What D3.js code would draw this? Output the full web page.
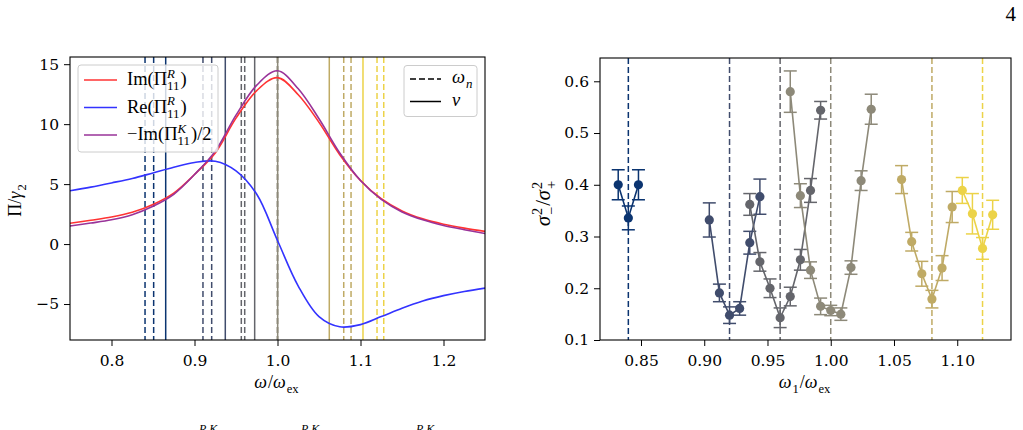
<!DOCTYPE html>
<html>
<head>
<meta charset="utf-8">
<script src="https://cdn.jsdelivr.net/npm/d3@7"></script>
<style>
  body { margin: 0; background: #fff; }
</style>
</head>
<body>
<svg id="fig" width="1023" height="430"></svg>
<script>
// ---- left panel: response functions ----
var omega   = [0.75, 0.775, 0.80, 0.825, 0.85, 0.875, 0.90, 0.925, 0.95, 0.975, 1.00,
               1.025, 1.05, 1.075, 1.10, 1.125, 1.15, 1.175, 1.20, 1.225, 1.25];
var imPiR   = [1.73, 1.98, 2.25, 2.65, 3.3, 4.25, 5.8, 7.6, 10.5, 12.8, 13.88,
               12.45, 10.15, 7.45, 5.3, 3.78, 2.76, 2.1, 1.66, 1.33, 1.06];
var rePiR   = [4.44, 4.75, 5.1, 5.47, 5.93, 6.4, 6.8, 6.9, 6.1, 4.15, 0.3,
               -3.5, -6.05, -6.9, -6.72, -6.05, -5.35, -4.75, -4.3, -3.95, -3.67];
var imPiKHalf = [1.5, 1.75, 2.03, 2.45, 3.15, 4.15, 5.8, 7.75, 10.75, 13.25, 14.45,
               12.95, 10.45, 7.6, 5.3, 3.72, 2.68, 2.02, 1.55, 1.2, 0.88];

// mode frequencies (dashed) and drive frequencies (solid), with colour group
var omegaN      = [0.8404, 0.8508, 0.9102, 0.9207, 0.9564, 0.9605, 1.0, 1.0, 1.0798, 1.0886, 1.1199, 1.128];
var omegaNGroup = [0, 0, 1, 1, 2, 2, 3, 3, 4, 4, 5, 5];
var nu          = [0.8653, 0.9371, 0.9725, 1.0002, 1.0624, 1.103];

var groupColors = ["#0b3470", "#404c6c", "#64656b", "#8d8979", "#bfaa65", "#ecd348"];

// ---- right panel: squeezing ratio vs omega_1 ----
var centers = [0.84, 0.92, 0.96, 1.00, 1.08, 1.12];
var w1 = [
  [0.832, 0.840, 0.848],
  [0.904, 0.912, 0.920, 0.928, 0.936, 0.944],
  [0.936, 0.944, 0.952, 0.960, 0.968, 0.976, 0.984, 0.992],
  [0.968, 0.976, 0.984, 0.992, 1.000, 1.008, 1.016, 1.024, 1.032],
  [1.056, 1.064, 1.072, 1.080, 1.088, 1.096],
  [1.104, 1.112, 1.120, 1.128]
];
var ratio = [
  [0.400, 0.336, 0.400],
  [0.332, 0.191, 0.148, 0.161, 0.288, 0.377],
  [0.362, 0.251, 0.200, 0.143, 0.184, 0.255, 0.389, 0.544],
  [0.580, 0.379, 0.235, 0.165, 0.157, 0.150, 0.240, 0.408, 0.546],
  [0.410, 0.290, 0.228, 0.179, 0.239, 0.357],
  [0.389, 0.344, 0.277, 0.342]
];
var ratioErr = [
  [0.029, 0.023, 0.029],
  [0.033, 0.017, 0.016, 0.013, 0.022, 0.034],
  [0.021, 0.018, 0.018, 0.019, 0.018, 0.020, 0.023, 0.017],
  [0.040, 0.023, 0.016, 0.016, 0.010, 0.012, 0.013, 0.019, 0.029],
  [0.027, 0.018, 0.024, 0.017, 0.024, 0.030],
  [0.025, 0.039, 0.021, 0.028]
];

var leftXTicks  = [0.8, 0.9, 1.0, 1.1, 1.2];
var leftYTicks  = [-5, 0, 5, 10, 15];
var rightXTicks = [0.85, 0.90, 0.95, 1.00, 1.05, 1.10];
var rightYTicks = [0.1, 0.2, 0.3, 0.4, 0.5, 0.6];

var svg = d3.select("#fig");
var mathFont = "'Liberation Serif', 'Times New Roman', serif";
var tickFont = "'DejaVu Serif', serif";

// draws text made of upright/italic pieces with sub/superscripts
function mathLabel(parent, x, y, pieces, size, anchor, rotate) {
  var g = parent.append("g")
    .attr("transform", "translate(" + x + "," + y + ")" + (rotate ? " rotate(" + rotate + ")" : ""));
  var inner = g.append("g");
  var cx = 0;
  function piece(txt, px, py, fs, italic) {
    return inner.append("text").attr("x", px).attr("y", py).attr("font-size", fs)
      .style("font-family", mathFont).style("font-style", italic ? "italic" : "normal")
      .attr("fill", "#000").text(txt);
  }
  pieces.forEach(function(p) {
    if (p.sup !== undefined || p.sub !== undefined) {
      var w = 0;
      if (p.sup !== undefined) {
        w = Math.max(w, piece(p.sup, cx, -size * 0.4, size * 0.7, p.supIt).node().getComputedTextLength());
      }
      if (p.sub !== undefined) {
        w = Math.max(w, piece(p.sub, cx, size * 0.27, size * 0.7, p.subIt).node().getComputedTextLength());
      }
      cx += w + 1;
    } else {
      cx += piece(p.t, cx, 0, size, p.it).node().getComputedTextLength() + (p.it ? 1 : 0);
    }
  });
  if (anchor === "middle") inner.attr("transform", "translate(" + (-cx / 2) + ",0)");
  return g;
}

function styleAxis(g) {
  g.selectAll("path.domain").remove();
  g.selectAll(".tick line").attr("stroke", "#000").attr("stroke-width", 1);
  g.selectAll(".tick text").attr("font-size", 15.5).style("font-family", tickFont).attr("fill", "#000");
}

// ================= LEFT PANEL =================
var xL = d3.scaleLinear().domain([0.75, 1.25]).range([70, 485]);
var yL = d3.scaleLinear().domain([-8, 15.6]).range([340, 57]);

svg.append("clipPath").attr("id", "clipL").append("rect")
  .attr("x", 70).attr("y", 57).attr("width", 415).attr("height", 283);

var left = svg.append("g");
var plotL = left.append("g").attr("clip-path", "url(#clipL)");

plotL.selectAll("line.wn").data(omegaN).enter().append("line")
  .attr("x1", function(d) { return xL(d); }).attr("x2", function(d) { return xL(d); })
  .attr("y1", 57).attr("y2", 340)
  .attr("stroke", function(d, i) { return groupColors[omegaNGroup[i]]; })
  .attr("stroke-width", 1.5).attr("stroke-dasharray", "6,3");

plotL.selectAll("line.nu").data(nu).enter().append("line")
  .attr("x1", function(d) { return xL(d); }).attr("x2", function(d) { return xL(d); })
  .attr("y1", 57).attr("y2", 340)
  .attr("stroke", function(d, i) { return groupColors[i]; })
  .attr("stroke-width", 1.5);

var curves = [
  { vals: imPiR, color: "#ff3333" },
  { vals: rePiR, color: "#3333ff" },
  { vals: imPiKHalf, color: "#993399" }
];
var lineL = d3.line().curve(d3.curveCatmullRom)
  .x(function(d) { return xL(d[0]); }).y(function(d) { return yL(d[1]); });
curves.forEach(function(c) {
  plotL.append("path")
    .datum(omega.map(function(o, i) { return [o, c.vals[i]]; }))
    .attr("d", lineL).attr("fill", "none")
    .attr("stroke", c.color).attr("stroke-width", 1.6);
});

var axLx = left.append("g").attr("transform", "translate(0,340)")
  .call(d3.axisBottom(xL).tickValues(leftXTicks).tickFormat(d3.format(".1f")).tickSize(6).tickPadding(9));
styleAxis(axLx);
var axLy = left.append("g").attr("transform", "translate(70,0)")
  .call(d3.axisLeft(yL).tickValues(leftYTicks).tickFormat(function(d) { return d < 0 ? "\u2212" + (-d) : d; }).tickSize(6).tickPadding(5));
styleAxis(axLy);

left.append("rect").attr("x", 70).attr("y", 57).attr("width", 415).attr("height", 283)
  .attr("fill", "none").attr("stroke", "#000").attr("stroke-width", 1.1);

// legend 1
var leg1 = left.append("g");
leg1.append("rect").attr("x", 78).attr("y", 65).attr("width", 140).attr("height", 87)
  .attr("rx", 3).attr("fill", "#fff").attr("fill-opacity", 0.8).attr("stroke", "#cccccc");
var legRows = [
  { y: 80, color: "#ff3333", pieces: [{ t: "Im(\u03A0" }, { sup: "R", supIt: true, sub: "11" }, { t: ")" }] },
  { y: 107.5, color: "#3333ff", pieces: [{ t: "Re(\u03A0" }, { sup: "R", supIt: true, sub: "11" }, { t: ")" }] },
  { y: 135, color: "#993399", pieces: [{ t: "\u2212Im(\u03A0" }, { sup: "K", supIt: true, sub: "11" }, { t: ")/2" }] }
];
legRows.forEach(function(r) {
  leg1.append("line").attr("x1", 84).attr("x2", 117).attr("y1", r.y).attr("y2", r.y)
    .attr("stroke", r.color).attr("stroke-width", 1.6);
  mathLabel(leg1, 127, r.y + 5, r.pieces, 18.5);
});

// legend 2
var leg2 = left.append("g");
leg2.append("rect").attr("x", 404).attr("y", 65.5).attr("width", 73).attr("height", 51)
  .attr("rx", 3).attr("fill", "#fff").attr("fill-opacity", 0.8).attr("stroke", "#cccccc");
leg2.append("line").attr("x1", 410).attr("x2", 441).attr("y1", 79).attr("y2", 79)
  .attr("stroke", "#000").attr("stroke-width", 1.5).attr("stroke-dasharray", "6,3");
leg2.append("line").attr("x1", 410).attr("x2", 441).attr("y1", 101.5).attr("y2", 101.5)
  .attr("stroke", "#000").attr("stroke-width", 1.5);
mathLabel(leg2, 452, 83, [{ t: "\u03C9", it: true }, { sub: "n", subIt: true }], 18.5);
mathLabel(leg2, 452, 106, [{ t: "\u03BD", it: true }], 18.5);

// axis labels
mathLabel(left, 277, 388, [{ t: "\u03C9", it: true }, { t: "/" }, { t: "\u03C9", it: true }, { sub: "ex" }], 18, "middle");
mathLabel(left, 21, 200, [{ t: "\u03A0/" }, { t: "\u03B3", it: true }, { sub: "2" }], 18, "middle", -90);

// ================= RIGHT PANEL =================
var xR = d3.scaleLinear().domain([0.8176, 1.1425]).range([600, 1011]);
var yR = d3.scaleLinear().domain([0.1, 0.645]).range([340, 58]);

var right = svg.append("g");

right.selectAll("line.center").data(centers).enter().append("line")
  .attr("x1", function(d) { return xR(d); }).attr("x2", function(d) { return xR(d); })
  .attr("y1", 58).attr("y2", 340)
  .attr("stroke", function(d, i) { return groupColors[i]; })
  .attr("stroke-width", 1.5).attr("stroke-dasharray", "6,3");

var lineR = d3.line().x(function(d) { return xR(d.x); }).y(function(d) { return yR(d.y); });

w1.forEach(function(xs, k) {
  var pts = xs.map(function(x, i) { return { x: x, y: ratio[k][i], e: ratioErr[k][i] }; });
  var col = groupColors[k];
  var g = right.append("g");
  g.append("path").datum(pts).attr("d", lineR).attr("fill", "none")
    .attr("stroke", col).attr("stroke-width", 1.6);
  var eb = g.selectAll("g.eb").data(pts).enter().append("g");
  eb.append("line")
    .attr("x1", function(d) { return xR(d.x); }).attr("x2", function(d) { return xR(d.x); })
    .attr("y1", function(d) { return yR(d.y - d.e); }).attr("y2", function(d) { return yR(d.y + d.e); })
    .attr("stroke", col).attr("stroke-width", 1.5);
  [-1, 1].forEach(function(s) {
    eb.append("line")
      .attr("x1", function(d) { return xR(d.x) - 6.5; }).attr("x2", function(d) { return xR(d.x) + 6.5; })
      .attr("y1", function(d) { return yR(d.y + s * d.e); }).attr("y2", function(d) { return yR(d.y + s * d.e); })
      .attr("stroke", col).attr("stroke-width", 1.5);
  });
  eb.append("circle").attr("cx", function(d) { return xR(d.x); }).attr("cy", function(d) { return yR(d.y); })
    .attr("r", 4.6).attr("fill", col);
});

var axRx = right.append("g").attr("transform", "translate(0,340)")
  .call(d3.axisBottom(xR).tickValues(rightXTicks).tickFormat(d3.format(".2f")).tickSize(6).tickPadding(9));
styleAxis(axRx);
var axRy = right.append("g").attr("transform", "translate(600,0)")
  .call(d3.axisLeft(yR).tickValues(rightYTicks).tickFormat(d3.format(".1f")).tickSize(6).tickPadding(5));
styleAxis(axRy);

right.append("rect").attr("x", 600).attr("y", 58).attr("width", 411).attr("height", 282)
  .attr("fill", "none").attr("stroke", "#000").attr("stroke-width", 1.1);

mathLabel(right, 805, 388, [{ t: "\u03C9", it: true }, { sub: "1" }, { t: "/" }, { t: "\u03C9", it: true }, { sub: "ex" }], 18, "middle");
mathLabel(right, 550, 203, [{ t: "\u03C3", it: true }, { sup: "2", sub: "\u2212" }, { t: "/" }, { t: "\u03C3", it: true }, { sup: "2", sub: "+" }], 20.5, "middle", -90);

// page number and the top of the cut-off caption line
svg.append("text").attr("x", 1016).attr("y", 21).attr("text-anchor", "end")
  .attr("font-size", 21).style("font-family", mathFont).attr("fill", "#000").text("4");
[199, 301, 416].forEach(function(x) {
  svg.append("text").attr("x", x).attr("y", 433).attr("font-size", 12)
    .style("font-family", mathFont).style("font-style", "italic").attr("fill", "#000").text("R,K");
});
</script>
</body>
</html>
